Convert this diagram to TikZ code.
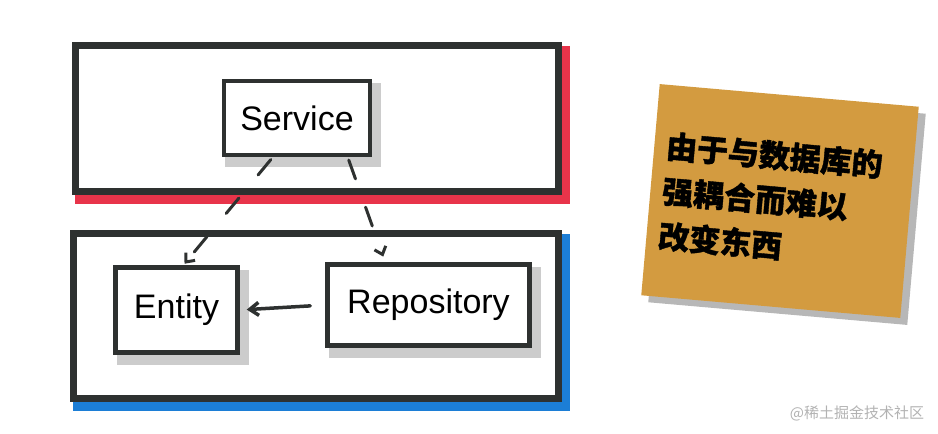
\documentclass[tikz,border=0pt]{standalone}
\usepackage{fontspec}
\setmainfont{Liberation Sans}
\newfontfamily\cjk{Noto Sans CJK SC}[BoldFeatures={FakeBold=1.2}]
\usetikzlibrary{arrows.meta, positioning, shadows}
\definecolor{inkgray}{RGB}{46,49,48}
\definecolor{markred}{RGB}{232,52,74}
\definecolor{markblue}{RGB}{28,126,214}
\definecolor{notegold}{RGB}{211,155,64}

\begin{document}
\begin{tikzpicture}[x=1pt, y=-1pt, >=Stealth,
  layer/.style={rectangle, draw=inkgray, line width=7pt, fill=white,
               drop shadow={shadow xshift=5pt, shadow yshift=-6pt, fill=#1, draw=#1,
                            line width=12pt, opacity=1}},
  part/.style={rectangle, draw=inkgray, line width=4.5pt, fill=white,
              font=\fontsize{34}{40}\selectfont,
              drop shadow={shadow xshift=6pt, shadow yshift=-7pt, fill=black!20,
                           draw=black!20, line width=10pt, opacity=1}},
  uses/.style={-{Straight Barb[length=7pt, width=12pt]}, line width=3pt, inkgray,
               line cap=round, dash pattern=on 20pt off 30pt},
  arrow/.style={-{Straight Barb[length=9pt, width=13pt]}, line width=3.5pt, inkgray,
                line cap=round},
  note/.style={rectangle, fill=notegold, minimum width=260pt, minimum height=212pt,
               inner xsep=12pt, text width=236pt, align=left,
               font=\cjk\bfseries\fontsize{31}{45}\selectfont,
               drop shadow={shadow xshift=7pt, shadow yshift=-7pt, fill=black!40, opacity=.7}}
]
  \useasboundingbox (0,0) rectangle (938,434);

  \node[layer=markred, minimum width=483pt, minimum height=146pt] (app) at (317,118.5) {};
  \node[layer=markblue, minimum width=485pt, minimum height=165pt] (data) at (316,316) {};

  \node[part, minimum width=146pt, minimum height=74pt] (srv) at (297,118) {Service};
  \node[part, minimum width=122pt, minimum height=85pt] (ent) at (176.5,310) {Entity};
  \node[part, minimum width=202pt, minimum height=81pt] (repo) at (428.5,305) {Repository};

  \draw[uses, shorten <=3pt, shorten >=2pt] ([xshift=51pt]srv.south west) -- ([xshift=70pt]ent.north west);
  \draw[uses, shorten <=3pt, shorten >=6pt] ([xshift=126pt]srv.south west) -- ([xshift=60pt]repo.north west);
  \draw[arrow, shorten <=15pt, shorten >=7pt] (repo.west) -- (ent.east);

  \node[note, rotate=-5] (memo) at (780,201) {由于与数据库的\\强耦合而难以\\改变东西};

  \node[text=black!30, font=\cjk\fontsize{15}{17}\selectfont] (mark) at (857,413) {@稀土掘金技术社区};
\end{tikzpicture}
\end{document}
